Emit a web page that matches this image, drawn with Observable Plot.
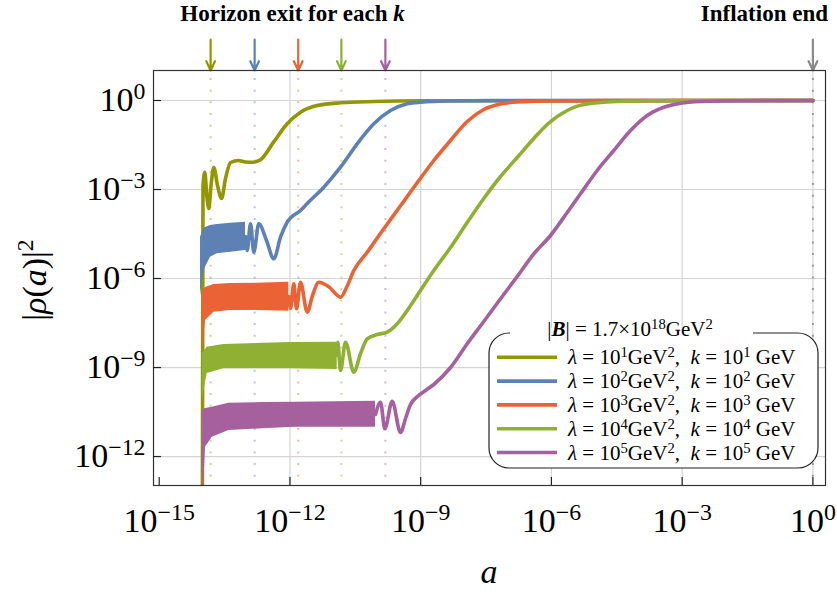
<!DOCTYPE html>
<html><head><meta charset="utf-8">
<script src="https://cdn.jsdelivr.net/npm/d3@7"></script>
<script src="https://cdn.jsdelivr.net/npm/@observablehq/plot@0.6"></script>
<style>body{margin:0;background:#fff}#chart{width:837px;height:592px}</style>
</head><body><div id="chart"></div>
<script>
// ---------- data (log10 values) ----------
const seriesColors = ["#929600", "#5e81b5", "#eb6235", "#8fb032", "#a5609d"];
const lambdaExp = [1, 2, 3, 4, 5];
const kExp = [1, 2, 3, 4, 5];
const horizonExitLogA = [-13.82, -12.81, -11.81, -10.82, -9.81];
const inflationEndA = 1;
const bFieldMantissa = "1.7";
const bFieldExp = 18;
const xTickExps = [-15, -12, -9, -6, -3, 0];
const yTickExps = [0, -3, -6, -9, -12];
const xGridExps = [-12, -9, -6, -3, 0];
const yGridExps = [0, -3, -6, -9, -12];

// k = 10^1
const k1LogA = [-14.013, -13.995, -13.954, -13.908, -13.862, -13.811, -13.747, -13.662, -13.570, -13.479, -13.364, -13.180, -13.020, -12.859, -12.676, -12.377, -12.063, -11.758, -11.374, -10.840, -10.083, -9.004, 0];
const k1LogRho = [-16, -2.865, -2.417, -3.202, -3.640, -2.865, -2.258, -2.865, -3.303, -2.629, -2.090, -2.022, -2.073, -2.080, -1.999, -1.405, -0.785, -0.394, -0.169, -0.078, -0.034, -0.010, 0];

// k = 10^2
const k2BandLogA = [-14.052, -13.977, -13.938, -13.823, -13.669, -13.364, -13.020];
const k2BandTop = [-4.607, -4.324, -4.280, -4.213, -4.179, -4.135, -4.102];
const k2BandBottom = [-6.6, -5.730, -5.618, -5.281, -5.167, -5.113, -5.056];
const k2LogA = [-13.020, -12.981, -12.905, -12.829, -12.715, -12.538, -12.370, -12.217, -12.063, -11.758, -11.604, -11.223, -10.840, -10.457, -10.076, -9.693, -9.309, -9.004, -8.316, -7.398, 0];
const k2LogRho = [-4.584, -5.056, -4.156, -5.113, -4.156, -4.719, -5.335, -4.607, -4.102, -3.707, -3.471, -2.922, -2.248, -1.459, -0.785, -0.337, -0.111, -0.057, -0.017, -0.003, 0];

// k = 10^3
const k3BandLogA = [-14.013, -13.938, -13.747, -13.364, -12.751, -12.026];
const k3BandTop = [-6.461, -6.303, -6.201, -6.168, -6.158, -6.124];
const k3BandBottom = [-8.5, -7.415, -7.135, -7.078, -7.078, -7.101];
const k3LogA = [-12.026, -11.987, -11.911, -11.850, -11.758, -11.604, -11.482, -11.338, -11.115, -10.840, -10.702, -10.535, -10.227, -9.846, -9.463, -9.043, -8.699, -8.316, -7.933, -7.552, -7.168, -6.785, -6.021, -4.874, 0];
const k3LogRho = [-6.606, -7.010, -6.178, -7.021, -6.124, -7.135, -6.572, -6.124, -6.269, -6.630, -6.303, -5.730, -5.113, -4.324, -3.549, -2.696, -2.022, -1.348, -0.708, -0.303, -0.118, -0.051, -0.017, -0.003, 0];

// k = 10^4
const k4BandLogA = [-14.013, -13.899, -13.518, -11.987, -10.916];
const k4BandTop = [-8.537, -8.315, -8.224, -8.156, -8.146];
const k4BandBottom = [-10.1, -9.201, -9.043, -9.043, -9.066];
const k4LogA = [-10.916, -10.902, -10.840, -10.725, -10.535, -10.381, -10.227, -9.998, -9.768, -9.539, -9.309, -9.080, -8.699, -8.316, -7.933, -7.552, -7.168, -6.785, -6.404, -6.097, -5.638, -5.257, -4.491, -3.726, 0];
const k4LogRho = [-8.594, -8.146, -9.100, -8.146, -9.157, -8.537, -8.032, -7.887, -7.809, -7.526, -7.078, -6.572, -5.730, -4.954, -4.112, -3.303, -2.562, -1.921, -1.281, -0.809, -0.337, -0.135, -0.034, -0.010, 0];

// k = 10^5
const k5BandLogA = [-14.013, -13.938, -13.784, -13.403, -12.637, -11.872, -10.037];
const k5BandTop = [-10.448, -10.381, -10.337, -10.202, -10.179, -10.168, -10.135];
const k5BandBottom = [-14, -11.685, -11.348, -11.122, -11.065, -11.011, -11.011];
const k5LogA = [-10.037, -9.922, -9.823, -9.654, -9.463, -9.348, -9.234, -9.073, -8.889, -8.699, -8.316, -7.933, -7.552, -7.168, -6.785, -6.404, -6.021, -5.638, -5.333, -4.950, -4.569, -4.185, -3.802, -3.421, -3.038, -2.579, -1.661, 0];
const k5LogRho = [-10.583, -10.168, -11.065, -10.135, -11.190, -10.718, -10.246, -9.976, -9.774, -9.572, -8.999, -8.200, -7.449, -6.683, -5.932, -5.167, -4.550, -3.775, -3.145, -2.359, -1.685, -1.011, -0.506, -0.226, -0.091, -0.034, -0.007, 0];

// ---------- build tables ----------
const p10 = v => Math.pow(10, v);
const lineRows = (la, lr) => la.map((v, i) => ({a: p10(v), rho: p10(lr[i])}));
const bandRows = (la, t, b) => la.map((v, i) => ({a: p10(v), hi: p10(t[i]), lo: p10(b[i])}));
const curves = [
  {line: lineRows(k1LogA, k1LogRho), band: null},
  {line: lineRows(k2LogA, k2LogRho), band: bandRows(k2BandLogA, k2BandTop, k2BandBottom)},
  {line: lineRows(k3LogA, k3LogRho), band: bandRows(k3BandLogA, k3BandTop, k3BandBottom)},
  {line: lineRows(k4LogA, k4LogRho), band: bandRows(k4BandLogA, k4BandTop, k4BandBottom)},
  {line: lineRows(k5LogA, k5LogRho), band: bandRows(k5BandLogA, k5BandTop, k5BandBottom)}
];
const exits = horizonExitLogA.map((v, i) => ({a: p10(v), color: seriesColors[i]}));

const xDomain = [p10(-15.131), p10(0.289)];
const yDomain = [p10(-12.976), p10(1.011)];
const arrowTop = p10(2.05);
const frameW = 837 - 153 - 12, frameH = 592 - 70 - 107;

const curveMarks = [];
curves.forEach((c, i) => {
  if (c.band) curveMarks.push(Plot.areaY(c.band, {x: "a", y1: "lo", y2: "hi", fill: seriesColors[i], clip: true}));
  curveMarks.push(Plot.line(c.line, {x: "a", y: "rho", stroke: seriesColors[i], strokeWidth: 3.6, curve: "monotone-x", clip: true, strokeLinejoin: "round"}));
});

const supFmt = e => "10^" + String(e).replace("-", "\u2212");

const plot = Plot.plot({
  width: 837, height: 592,
  marginLeft: 153, marginRight: 12, marginTop: 70, marginBottom: 107,
  x: {type: "log", domain: xDomain},
  y: {type: "log", domain: yDomain},
  color: {type: "identity"},
  style: {fontFamily: "'Liberation Serif', serif", background: "#fff", color: "#000"},
  marks: [
    Plot.ruleX(xGridExps.map(p10), {stroke: "#d4d4d4", strokeWidth: 1.2}),
    Plot.ruleY(yGridExps.map(p10), {stroke: "#d4d4d4", strokeWidth: 1.2}),
    Plot.ruleX(exits, {x: "a", stroke: "color", strokeOpacity: 0.45, strokeWidth: 2, strokeDasharray: "2,9.67", strokeDashoffset: 3.67}),
    Plot.ruleX([inflationEndA], {stroke: "#8a8a8a", strokeOpacity: 0.8, strokeWidth: 2, strokeDasharray: "2,9.67", strokeDashoffset: 3.67}),
    ...curveMarks,
    Plot.arrow(exits, {x1: "a", x2: "a", y1: arrowTop, y2: yDomain[1], stroke: "color", strokeWidth: 2.2, headLength: 9, headAngle: 50}),
    Plot.arrow([inflationEndA], {x1: d => d, x2: d => d, y1: arrowTop, y2: yDomain[1], stroke: "#8a8a8a", strokeWidth: 2.2, headLength: 9, headAngle: 50}),
    Plot.frame({stroke: "#333", strokeWidth: 1.2}),
    Plot.ruleX(xTickExps.map(p10), {stroke: "#222", strokeWidth: 1.2, insetTop: frameH - 8}),
    Plot.ruleY(yTickExps.map(p10), {stroke: "#222", strokeWidth: 1.2, insetRight: frameW - 8}),
    Plot.axisX(xTickExps.map(p10), {tickSize: 0, tickPadding: 22, fontSize: 34, label: null, tickFormat: d => supFmt(Math.round(Math.log10(d)))}),
    Plot.axisY(yTickExps.map(p10), {tickSize: 0, tickPadding: 8, fontSize: 34, label: null, tickFormat: d => supFmt(Math.round(Math.log10(d)))})
  ]
});
document.getElementById("chart").appendChild(plot);

// ---------- rich text helpers ----------
function rich(sel, parts, shift) {
  let raised = false;
  parts.forEach(([t, k]) => {
    const ts = sel.append("tspan").text(t);
    if (k === "s") {
      ts.attr("font-size", "0.7em");
      if (!raised) { ts.attr("dy", -shift); raised = true; }
    } else {
      if (raised) { ts.attr("dy", shift); raised = false; }
      if (k === "i") ts.attr("font-style", "italic");
      if (k === "b") ts.attr("font-style", "italic").attr("font-weight", "bold");
      if (k === "B") ts.attr("font-weight", "bold");
    }
  });
}

const svg = d3.select(plot);
svg.selectAll('g[aria-label="x-axis tick label"] text, g[aria-label="y-axis tick label"] text').each(function () {
  const t = d3.select(this);
  const [b, e] = t.text().split("^");
  t.text(null);
  rich(t, [[b, "n"], [e, "s"]], 12);
});

const X = plot.scale("x"), Y = plot.scale("y");
const ff = "'Liberation Serif', serif";

// top annotations
const midExit = p10(d3.mean(horizonExitLogA));
const t1 = svg.append("text").attr("x", X.apply(midExit) - 5).attr("y", 21).attr("text-anchor", "middle")
  .attr("font-family", ff).attr("font-size", 23).attr("font-weight", "bold").attr("fill", "#000");
rich(t1, [["Horizon exit for each ", "B"], ["k", "b"]], 0);
svg.append("text").attr("x", 828).attr("y", 21).attr("text-anchor", "end")
  .attr("font-family", ff).attr("font-size", 23).attr("font-weight", "bold").attr("fill", "#000").text("Inflation end");

// axis labels
svg.append("text").attr("x", (153 + 825) / 2).attr("y", 583).attr("text-anchor", "middle")
  .attr("font-family", ff).attr("font-size", 34).attr("font-style", "italic").attr("fill", "#000").text("a");
const yl = svg.append("text").attr("transform", "translate(46,280) rotate(-90)").attr("text-anchor", "middle")
  .attr("font-family", ff).attr("font-size", 34).attr("fill", "#000");
rich(yl, [["|", "n"], ["\u03c1", "i"], ["(", "n"], ["a", "i"], [")|", "n"], ["2", "s"]], 13);

// legend
const lg = svg.append("g").attr("font-family", ff).attr("fill", "#000");
lg.append("rect").attr("x", 489).attr("y", 333).attr("width", 329).attr("height", 135).attr("rx", 20)
  .attr("fill", "#fff").attr("stroke", "#222").attr("stroke-width", 1.2);
lg.append("rect").attr("x", 510).attr("y", 328).attr("width", 243).attr("height", 10).attr("fill", "#fff");
const lt = lg.append("text").attr("x", 630).attr("y", 336).attr("text-anchor", "middle").attr("font-size", 21);
rich(lt, [["|", "n"], ["B", "b"], ["| = " + bFieldMantissa + "\u00d710", "n"], [String(bFieldExp), "s"], ["GeV", "n"], ["2", "s"]], 7);
seriesColors.forEach((c, i) => {
  const yy = 357.3 + i * 23.8;
  lg.append("line").attr("x1", 497).attr("x2", 557).attr("y1", yy).attr("y2", yy).attr("stroke", c).attr("stroke-width", 3.6);
  const tx = lg.append("text").attr("x", 568).attr("y", yy + 7).attr("text-anchor", "start").attr("font-size", 21);
  rich(tx, [["\u03bb", "i"], [" = 10", "n"], [String(lambdaExp[i]), "s"], ["GeV", "n"], ["2", "s"], [",  ", "n"], ["k", "i"], [" = 10", "n"], [String(kExp[i]), "s"], [" GeV", "n"]], 7);
});
</script>
</body></html>
